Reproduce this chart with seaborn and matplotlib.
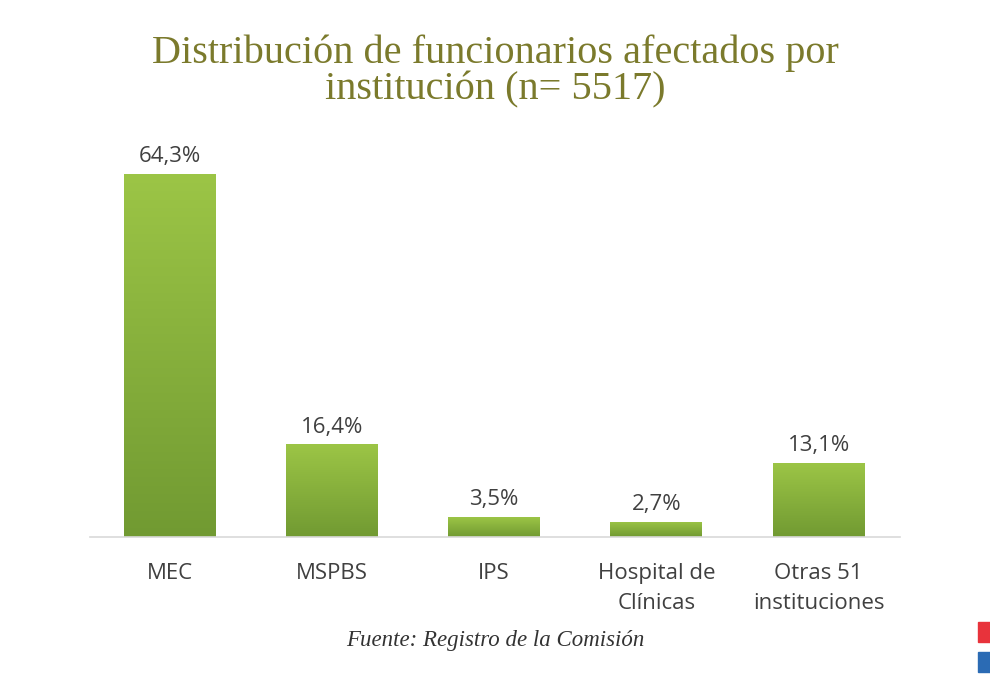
import numpy as np
import pandas as pd
import seaborn as sns
import matplotlib.pyplot as plt
from matplotlib.colors import LinearSegmentedColormap
from matplotlib.patches import Rectangle

categorias = ["MEC", "MSPBS", "IPS", "Hospital de\nClínicas", "Otras 51\ninstituciones"]
porcentajes = [64.3, 16.4, 3.5, 2.7, 13.1]
etiquetas = ["64,3%", "16,4%", "3,5%", "2,7%", "13,1%"]

titulo = "Distribución de funcionarios afectados por\ninstitución (n= 5517)"
fuente = "Fuente: Registro de la Comisión"

sns.set_theme(style="white")
plt.rcParams["font.family"] = ["Open Sans", "DejaVu Sans"]

df = pd.DataFrame({"inst": categorias, "pct": porcentajes})

fig = plt.figure(figsize=(9.9, 6.97), dpi=100)
ax = fig.add_axes([0.0909, 0.2296, 0.818, 0.5666])

sns.barplot(data=df, x="inst", y="pct", color="#86ad3a", width=0.566,
            saturation=1, ax=ax)

# degradado verde en cada barra
verde = LinearSegmentedColormap.from_list("verde", ["#719a32", "#9cc546"])
grad = np.linspace(0, 1, 256).reshape(-1, 1)
for bar in ax.patches:
    x0, y0 = bar.get_x(), bar.get_y()
    w, h = bar.get_width(), bar.get_height()
    im = ax.imshow(grad, cmap=verde, origin="lower", aspect="auto",
                   extent=[x0, x0 + w, y0, y0 + h], zorder=bar.get_zorder() + 0.1)
    im.set_clip_path(bar)

for i, (v, t) in enumerate(zip(porcentajes, etiquetas)):
    ax.annotate(t, (i, v), xytext=(0, 5), textcoords="offset points",
                ha="center", va="bottom", fontsize=16, color="#404040")

ax.set_xlim(-0.49, 4.5)
ax.set_ylim(0, 70)
ax.set_xlabel("")
ax.set_ylabel("")
ax.set_yticks([])
ax.tick_params(axis="x", length=0, pad=18.5, labelsize=16, labelcolor="#404040")
for lbl in ax.get_xticklabels():
    lbl.set_linespacing(1.6)
    lbl.set_verticalalignment("top")
for s in ["top", "right", "left"]:
    ax.spines[s].set_visible(False)
ax.spines["bottom"].set_color("#d9d9d9")
ax.spines["bottom"].set_linewidth(1.2)

fig.text(0.5, 0.951, titulo, ha="center", va="top", fontsize=29,
         family=["Liberation Serif", "DejaVu Serif"], color="#7b7a2c",
         linespacing=1.0)
fig.text(0.5, 0.081, fuente, ha="center", va="center", fontsize=16.5,
         family=["Liberation Serif", "DejaVu Serif"], style="italic", color="#333333")

# marcas de color en el borde derecho
fig.patches.append(Rectangle((978 / 990, 1 - 642 / 697), 12 / 990, 20 / 697,
                             transform=fig.transFigure, color="#e8333b"))
fig.patches.append(Rectangle((978 / 990, 1 - 672 / 697), 12 / 990, 20 / 697,
                             transform=fig.transFigure, color="#2b6bb4"))

fig.savefig("out.png", dpi=100)
